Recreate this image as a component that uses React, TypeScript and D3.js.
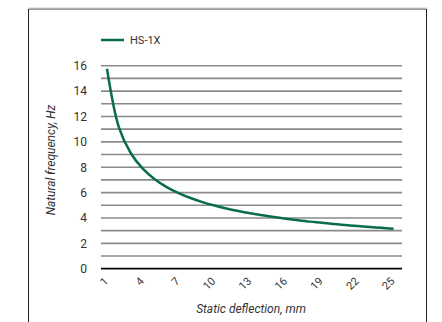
import React from "react";
import * as d3 from "d3";

const deflections = [1,2,3,4,5,6,7,8,9,10,11,12,13,14,15,16,17,18,19,20,21,22,23,24,25];
const frequencies = [15.76,11.14,9.1,7.88,7.05,6.43,5.96,5.57,5.25,4.98,4.75,4.55,4.37,4.21,4.07,3.94,3.82,3.71,3.62,3.52,3.44,3.36,3.29,3.22,3.15];
const xTickLabels = [1,4,7,10,13,16,19,22,25];
const yTickLabels = [0,2,4,6,8,10,12,14,16];
const gridValues = [1,2,3,4,5,6,7,8,9,10,11,12,13,14,15,16];
const seriesName = "HS-1X";

const W = 442, H = 322;
const left = 101, right = 402, top = 65.7, bottom = 268.7;
const green = "#0b6b4e";
const font = "Roboto, 'Noto Sans', sans-serif";

export default function App() {
  const x = d3.scaleBand<number>().domain(deflections).range([left, 399.5]).padding(0);
  const cx = (d: number) => (x(d) as number) + x.bandwidth() / 2;
  const y = d3.scaleLinear().domain([0, 16]).range([bottom, top]);
  const line = d3.line<number>()
    .x((_, i) => cx(deflections[i]))
    .y((d) => y(d))
    .curve(d3.curveCatmullRom.alpha(0.5));

  return (
    <svg width={W} height={H} style={{ position: "absolute", left: 0, top: 0, background: "#fff" }}>
      <rect x={0} y={0} width={W} height={H} fill="#fff" />
      {/* frame */}
      <line x1={28.5} y1={9} x2={28.5} y2={H} stroke="#222" strokeWidth={1} />
      <line x1={28.5} y1={9} x2={426.5} y2={9} stroke="#333" strokeWidth={1} />
      <line x1={426.5} y1={9} x2={426.5} y2={H} stroke="#222" strokeWidth={1} />
      <line x1={28} y1={8} x2={427} y2={8} stroke="#ccc" strokeWidth={1} />
      {/* legend */}
      <line x1={101} y1={40} x2={124} y2={40} stroke={green} strokeWidth={2.5} />
      <text x={130} y={44} fontFamily={font} fontSize={11} fill="#333">{seriesName}</text>
      {/* gridlines */}
      {gridValues.map((v) => (
        <line key={v} x1={left} x2={right} y1={y(v)} y2={y(v)} stroke="#8a8a8a" strokeWidth={1.6} />
      ))}
      <line x1={left} x2={right} y1={y(0)} y2={y(0)} stroke="#000" strokeWidth={1.8} />
      {/* y tick labels */}
      {yTickLabels.map((v) => (
        <text key={v} x={87} y={y(v)} dy="0.36em" textAnchor="end" fontFamily={font} fontSize={12} fill="#333">{v}</text>
      ))}
      {/* x tick labels */}
      {xTickLabels.map((v) => (
        <text key={v} transform={`translate(${cx(v) - 1},${279}) rotate(-45)`} textAnchor="end" dy="0.36em" fontFamily={font} fontSize={11} fill="#333">{v}</text>
      ))}
      {/* series */}
      <path d={line(frequencies) || ""} fill="none" stroke={green} strokeWidth={2.5} />
      {/* axis titles */}
      <text transform={`translate(55,${160}) rotate(-90)`} textAnchor="middle" fontFamily={font} fontSize={12} fontStyle="italic" fill="#333">Natural frequency, Hz</text>
      <text x={251} y={313} textAnchor="middle" fontFamily={font} fontSize={12} fontStyle="italic" fill="#333">Static deflection, mm</text>
    </svg>
  );
}
